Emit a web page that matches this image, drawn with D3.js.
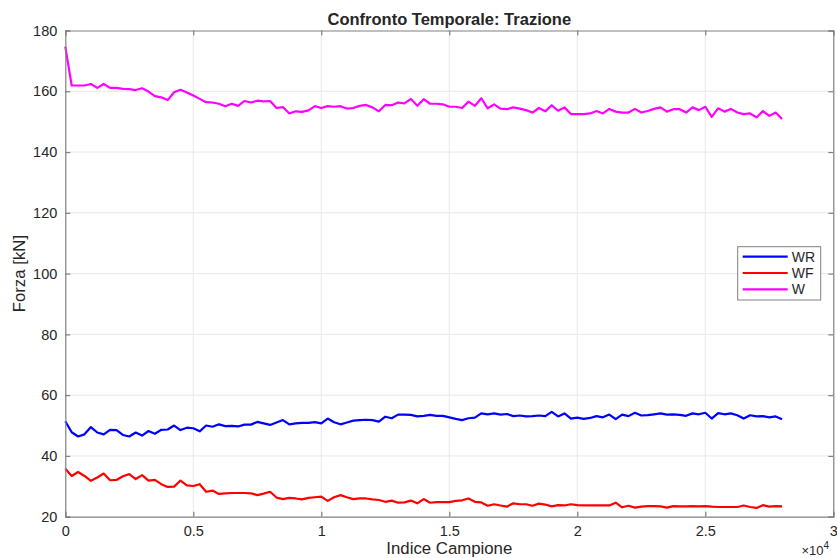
<!DOCTYPE html>
<html>
<head>
<meta charset="utf-8">
<script src="https://cdn.jsdelivr.net/npm/d3@7"></script>
<style>
  html, body { margin: 0; padding: 0; background: #ffffff; }
  svg { display: block; font-family: "Liberation Sans", Arial, Helvetica, sans-serif; }
</style>
</head>
<body>
<svg id="chart" width="837" height="558"></svg>
<script>
// Samples are taken every 250 indices, from 0 to 28000
const sampleStep = 250;

const seriesWR = [
  51.4, 47.8, 46.4, 47.1, 49.5, 47.7, 47.1, 48.6, 48.5, 46.9,
  46.4, 47.7, 46.7, 48.2, 47.3, 48.6, 48.7, 50.0, 48.5, 49.3,
  49.1, 48.1, 50.0, 49.6, 50.4, 49.8, 49.9, 49.7, 50.3, 50.3,
  51.2, 50.7, 50.2, 51.0, 51.8, 50.4, 50.7, 50.9, 50.9, 51.1,
  50.7, 52.3, 51.1, 50.4, 51.0, 51.6, 51.8, 51.9, 51.8, 51.3,
  52.9, 52.4, 53.6, 53.6, 53.5, 53.0, 53.2, 53.5, 53.2, 53.2,
  52.7, 52.2, 51.8, 52.4, 52.6, 54.0, 53.7, 54.0, 53.6, 53.8,
  53.1, 53.3, 53.0, 53.1, 53.3, 53.1, 54.5, 53.0, 54.0, 52.3,
  52.6, 52.2, 52.5, 53.1, 52.7, 53.6, 52.1, 53.6, 53.1, 54.2,
  53.3, 53.4, 53.7, 54.0, 53.6, 53.7, 53.5, 53.2, 54.0, 53.7,
  54.2, 52.3, 54.1, 53.7, 54.0, 53.4, 52.3, 53.4, 53.0, 53.1,
  52.7, 53.0, 52.1
];

const seriesWF = [
  35.8, 33.4, 34.7, 33.4, 31.8, 32.9, 34.2, 32.0, 32.1, 33.3,
  34.0, 32.4, 33.7, 31.9, 32.1, 30.7, 29.8, 29.9, 31.9, 30.3,
  30.1, 30.7, 28.2, 28.6, 27.5, 27.7, 27.8, 27.8, 27.8, 27.7,
  27.1, 27.6, 28.2, 26.3, 25.8, 26.2, 26.0, 25.7, 26.2, 26.4,
  26.6, 25.2, 26.4, 27.1, 26.4, 25.8, 26.0, 26.0, 25.7, 25.5,
  24.9, 25.3, 24.6, 24.7, 25.3, 24.4, 25.8, 24.6, 24.8, 24.8,
  24.8, 25.2, 25.4, 26.0, 24.9, 24.7, 23.6, 24.1, 23.7, 23.3,
  24.4, 24.1, 24.1, 23.6, 24.3, 24.0, 23.4, 23.8, 23.7, 24.1,
  23.8, 23.7, 23.7, 23.7, 23.7, 23.7, 24.6, 23.1, 23.6, 23.0,
  23.3, 23.5, 23.5, 23.4, 23.0, 23.5, 23.4, 23.4, 23.5, 23.4,
  23.5, 23.3, 23.2, 23.2, 23.2, 23.2, 23.7, 23.2, 22.9, 23.8,
  23.3, 23.5, 23.4
];

const seriesW = [
  174.7, 161.9, 161.9, 161.9, 162.4, 161.1, 162.4, 161.1, 161.1, 160.8,
  160.7, 160.4, 161.0, 159.9, 158.4, 158.0, 157.1, 159.7, 160.5, 159.6,
  158.6, 157.5, 156.4, 156.3, 155.9, 155.1, 155.9, 155.2, 156.8, 156.3,
  156.9, 156.7, 156.8, 154.5, 154.8, 152.7, 153.4, 153.2, 153.7, 155.1,
  154.5, 155.1, 154.9, 155.1, 154.3, 154.5, 155.2, 155.5, 154.7, 153.4,
  155.5, 155.4, 156.3, 156.0, 157.5, 155.2, 157.4, 155.9, 155.9, 155.7,
  154.9, 154.9, 154.5, 156.6, 155.2, 157.7, 154.4, 155.7, 154.3, 154.1,
  154.7, 154.3, 153.8, 153.0, 154.5, 153.4, 155.4, 153.6, 154.7, 152.5,
  152.5, 152.5, 152.7, 153.5, 152.7, 154.2, 153.3, 153.0, 153.0, 154.2,
  153.0, 153.5, 154.2, 154.7, 153.3, 154.1, 154.1, 153.0, 154.7, 153.8,
  154.9, 151.6, 154.4, 153.3, 154.2, 153.0, 152.5, 152.7, 151.4, 153.5,
  151.9, 153.0, 150.9
];

const seriesNames = ["WR", "WF", "W"];
const seriesColors = ["#0000ff", "#ff0000", "#ff00ff"];
const xTickValues = [0, 5000, 10000, 15000, 20000, 25000, 30000];
const xTickLabels = ["0", "0.5", "1", "1.5", "2", "2.5", "3"];
const yTickValues = [20, 40, 60, 80, 100, 120, 140, 160, 180];

const titleText = "Confronto Temporale: Trazione";
const xLabelText = "Indice Campione";
const yLabelText = "Forza [kN]";

// Plot box
const plotLeft = 65.3, plotRight = 833.3, plotTop = 30.5, plotBottom = 516.7;
const axisColor = "#808080";
const textColor = "#262626";

const svg = d3.select("#chart");

const x = d3.scaleLinear().domain([0, 30000]).range([plotLeft, plotRight]);
const y = d3.scaleLinear().domain([20, 180]).range([plotBottom, plotTop]);

// Grid
const grid = svg.append("g").attr("stroke", "#e8e8e8").attr("stroke-width", 1);
grid.selectAll("line.gx").data(xTickValues.slice(1, -1)).join("line")
  .attr("class", "gx")
  .attr("x1", d => x(d)).attr("x2", d => x(d))
  .attr("y1", plotTop).attr("y2", plotBottom);
grid.selectAll("line.gy").data(yTickValues.slice(1, -1)).join("line")
  .attr("class", "gy")
  .attr("x1", plotLeft).attr("x2", plotRight)
  .attr("y1", d => y(d)).attr("y2", d => y(d));

// Series lines
const allSeries = [seriesWR, seriesWF, seriesW];
const line = d3.line()
  .x((d, i) => x(i * sampleStep))
  .y(d => y(d));

svg.append("g").selectAll("path").data(allSeries).join("path")
  .attr("d", d => line(d))
  .attr("fill", "none")
  .attr("stroke", (d, i) => seriesColors[i])
  .attr("stroke-width", 2.2)
  .attr("stroke-linejoin", "round");

// Axes with inward ticks on all four sides
const tickLen = 5;
const axBottom = d3.axisBottom(x).tickValues(xTickValues)
  .tickFormat((d, i) => xTickLabels[i]).tickSize(-tickLen).tickPadding(9);
const axTop = d3.axisTop(x).tickValues(xTickValues).tickFormat("").tickSize(-tickLen);
const axLeft = d3.axisLeft(y).tickValues(yTickValues).tickSize(-tickLen).tickPadding(8);
const axRight = d3.axisRight(y).tickValues(yTickValues).tickFormat("").tickSize(-tickLen);

function styleAxis(g) {
  g.select(".domain").attr("stroke", axisColor).attr("stroke-width", 1.2);
  g.selectAll(".tick line").attr("stroke", axisColor).attr("stroke-width", 1.2);
  g.selectAll(".tick text").attr("fill", textColor)
    .attr("font-size", 14.5).attr("font-family", "Liberation Sans, Arial, sans-serif");
}

svg.append("g").attr("transform", `translate(0,${plotBottom})`).call(axBottom).call(styleAxis);
svg.append("g").attr("transform", `translate(0,${plotTop})`).call(axTop).call(styleAxis);
svg.append("g").attr("transform", `translate(${plotLeft},0)`).call(axLeft).call(styleAxis);
svg.append("g").attr("transform", `translate(${plotRight},0)`).call(axRight).call(styleAxis);

// Exponent marker for the x axis
const expo = svg.append("text")
  .attr("x", 829).attr("y", 555)
  .attr("text-anchor", "end")
  .attr("fill", textColor)
  .attr("font-size", 13);
expo.append("tspan").text("×10");
expo.append("tspan").attr("dy", -6).attr("font-size", 10).text("4");

// Title and labels
svg.append("text")
  .attr("x", (plotLeft + plotRight) / 2).attr("y", 25)
  .attr("text-anchor", "middle")
  .attr("font-weight", "bold")
  .attr("font-size", 16.5)
  .attr("fill", textColor)
  .text(titleText);

svg.append("text")
  .attr("x", (plotLeft + plotRight) / 2).attr("y", 553.5)
  .attr("text-anchor", "middle")
  .attr("font-size", 16.8)
  .attr("fill", textColor)
  .text(xLabelText);

svg.append("text")
  .attr("transform", `translate(25,${(plotTop + plotBottom) / 2}) rotate(-90)`)
  .attr("text-anchor", "middle")
  .attr("font-size", 16.8)
  .attr("fill", textColor)
  .text(yLabelText);

// Legend
const lgX = 737.7, lgY = 246.7, lgW = 83, lgH = 53.3;
const legend = svg.append("g");
legend.append("rect")
  .attr("x", lgX).attr("y", lgY).attr("width", lgW).attr("height", lgH)
  .attr("fill", "#ffffff").attr("stroke", "#808080").attr("stroke-width", 1);
const rows = legend.selectAll("g.row").data(seriesNames).join("g")
  .attr("class", "row")
  .attr("transform", (d, i) => `translate(0,${lgY + 10 + i * 16.3})`);
rows.append("line")
  .attr("x1", lgX + 5).attr("x2", lgX + 50)
  .attr("y1", 0).attr("y2", 0)
  .attr("stroke", (d, i) => seriesColors[i]).attr("stroke-width", 2.2);
rows.append("text")
  .attr("x", lgX + 54).attr("y", 5)
  .attr("font-size", 14)
  .attr("fill", textColor)
  .text(d => d);
</script>
</body>
</html>
